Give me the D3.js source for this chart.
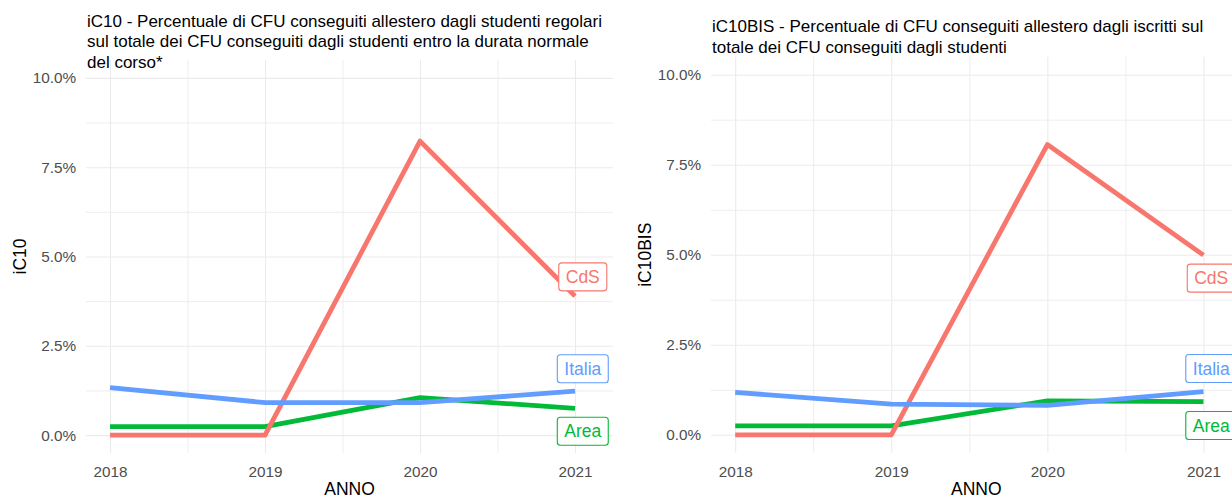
<!DOCTYPE html>
<html>
<head>
<meta charset="utf-8">
<script src="https://cdn.jsdelivr.net/npm/d3@7"></script>
<style>
	body{margin:0;background:#fff;}
	svg{display:block;}
	text{font-family:"Liberation Sans", Arial, sans-serif;}
</style>
</head>
<body>
<svg id="grafico" width="1232" height="499"></svg>
<script>

// dati (valori in %)
var anni = [2018, 2019, 2020, 2021];
var serie = ["Area", "CdS", "Italia"];
var colori = ["#00BA38", "#F8766D", "#619CFF"];

var ic10_area = [0.24, 0.24, 1.05, 0.75];
var ic10_cds = [0, 0, 8.23, 3.89];
var ic10_italia = [1.33, 0.91, 0.91, 1.23];

var ic10bis_area = [0.25, 0.25, 0.94, 0.92];
var ic10bis_cds = [0, 0, 8.06, 4.99];
var ic10bis_italia = [1.18, 0.85, 0.82, 1.20];

// posizione delle etichette (ggrepel) alla fine delle linee
var ic10_etichette = [0.11, 4.43, 1.86];
var ic10bis_etichette = [0.26, 4.35, 1.84];
var etichetta_anno = 2021.05;

var tickY = [0, 2.5, 5, 7.5, 10];
var tickYminori = [1.25, 3.75, 6.25, 8.75];
var tickXminori = [2018.5, 2019.5, 2020.5];

var titolo_ic10 = [
	"iC10 - Percentuale di CFU conseguiti allestero dagli studenti regolari",
	"sul totale dei CFU conseguiti dagli studenti entro la durata normale",
	"del corso*"
];
var titolo_ic10bis = [
	"iC10BIS - Percentuale di CFU conseguiti allestero dagli iscritti sul",
	"totale dei CFU conseguiti dagli studenti"
];

var svg = d3.select("#grafico");

function disegnaPannello(p){
	var g = svg.append("g");
	var larghezza = p.right - p.left;
	var altezza = p.bottom - p.top;

	var xScale = d3.scaleLinear().domain([2017.845, 2021.245]).range([p.left, p.right]);
	var yScale = d3.scaleLinear().domain([-0.5, 10.5]).range([p.bottom, p.top]);

	//// griglia minore
	g.append("g")
		.attr("transform", "translate(" + p.left + ",0)")
		.call(d3.axisLeft(yScale).tickValues(tickYminori).tickSize(-larghezza).tickFormat(""))
		.call(function(a){ a.select(".domain").remove(); a.selectAll("line").attr("stroke", "#EBEBEB").attr("stroke-width", 0.9); });

	g.append("g")
		.attr("transform", "translate(0," + p.bottom + ")")
		.call(d3.axisBottom(xScale).tickValues(tickXminori).tickSize(-altezza).tickFormat(""))
		.call(function(a){ a.select(".domain").remove(); a.selectAll("line").attr("stroke", "#EBEBEB").attr("stroke-width", 0.9); });

	//// griglia principale + etichette
	g.append("g")
		.attr("transform", "translate(" + p.left + ",0)")
		.call(d3.axisLeft(yScale).tickValues(tickY).tickSize(-larghezza).tickPadding(10)
			.tickFormat(function(d){ return d.toFixed(1) + "%"; }))
		.call(function(a){
			a.select(".domain").remove();
			a.selectAll("line").attr("stroke", "#EBEBEB").attr("stroke-width", 1.1);
			a.selectAll("text").attr("fill", "#4D4D4D").style("font-size", "15.3px");
		});

	g.append("g")
		.attr("transform", "translate(0," + p.bottom + ")")
		.call(d3.axisBottom(xScale).tickValues(anni).tickSize(-altezza).tickPadding(13)
			.tickFormat(d3.format("d")))
		.call(function(a){
			a.select(".domain").remove();
			a.selectAll("line").attr("stroke", "#EBEBEB").attr("stroke-width", 1.1);
			a.selectAll("text").attr("fill", "#4D4D4D").style("font-size", "15.3px");
		});

	//// linee
	var line = d3.line()
		.x(function(d){ return xScale(d.anno); })
		.y(function(d){ return yScale(d.valore); });

	for(var i = 0; i < serie.length; i++){
		var tabella = anni.map(function(a, j){ return {anno: a, valore: p.valori[i][j]}; });
		g.append("path")
			.attr("d", line(tabella))
			.attr("stroke", colori[i])
			.attr("stroke-width", 4.8)
			.attr("stroke-linejoin", "round")
			.attr("fill", "none");
	}

	//// etichette
	for(var i = 0; i < serie.length; i++){
		var cx = xScale(etichetta_anno);
		var cy = yScale(p.etichette[i]);
		var gl = g.append("g");
		var rect = gl.append("rect");
		var t = gl.append("text")
			.attr("x", cx)
			.attr("y", cy)
			.attr("dy", "0.35em")
			.attr("text-anchor", "middle")
			.attr("fill", colori[i])
			.style("font-size", "17.5px")
			.text(serie[i]);
		var w = t.node().getComputedTextLength();
		rect.attr("x", cx - w / 2 - 7)
			.attr("y", cy - 14)
			.attr("width", w + 14)
			.attr("height", 28)
			.attr("rx", 3)
			.attr("fill", "white")
			.attr("stroke", colori[i])
			.attr("stroke-width", 1.1);
	}

	//// titoli
	for(var k = 0; k < p.titolo.length; k++){
		g.append("text")
			.attr("x", p.left + 1)
			.attr("y", p.titoloY + k * 20.5)
			.attr("fill", "#000")
			.style("font-size", "17px")
			.text(p.titolo[k]);
	}

	g.append("text")
		.attr("x", (p.left + p.right) / 2)
		.attr("y", 495)
		.attr("text-anchor", "middle")
		.attr("fill", "#000")
		.style("font-size", "17.5px")
		.text("ANNO");

	g.append("text")
		.attr("transform", "translate(" + (p.left - 60) + "," + ((p.top + p.bottom) / 2) + ") rotate(-90)")
		.attr("text-anchor", "middle")
		.attr("fill", "#000")
		.style("font-size", "17.5px")
		.text(p.asseY);
}

disegnaPannello({
	left: 86, right: 613, top: 60, bottom: 453,
	valori: [ic10_area, ic10_cds, ic10_italia],
	etichette: ic10_etichette,
	titolo: titolo_ic10, titoloY: 26.7,
	asseY: "iC10"
});

disegnaPannello({
	left: 711, right: 1241.7, top: 56.7, bottom: 452.8,
	valori: [ic10bis_area, ic10bis_cds, ic10bis_italia],
	etichette: ic10bis_etichette,
	titolo: titolo_ic10bis, titoloY: 32.3,
	asseY: "iC10BIS"
});

</script>
</body>
</html>
